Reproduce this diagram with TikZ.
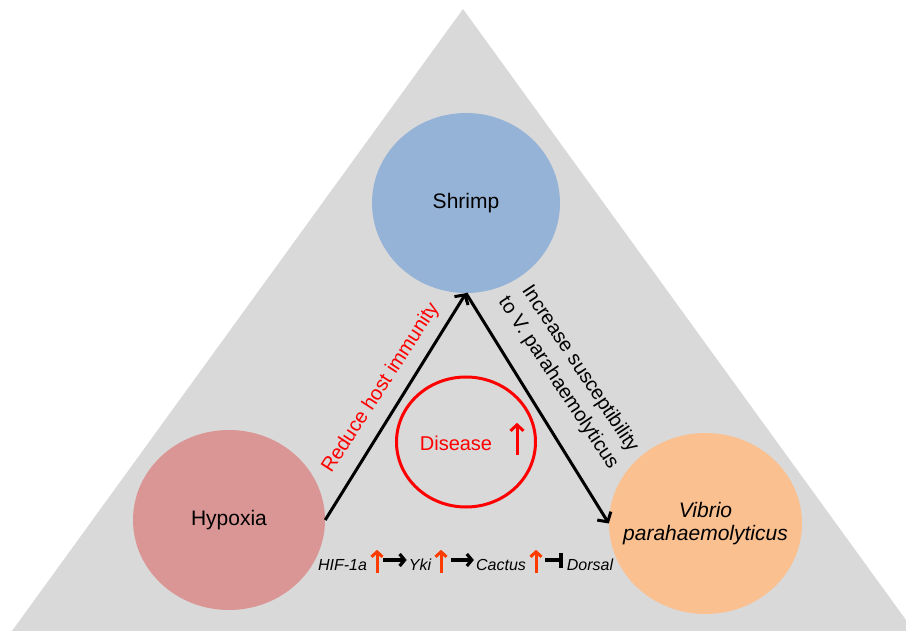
\documentclass[tikz,border=0pt]{standalone}
\usepackage{fontspec}
\setmainfont{Liberation Sans}
\usetikzlibrary{shapes.geometric,arrows.meta}
\definecolor{trigray}{HTML}{D9D9D9}
\definecolor{shrimpc}{HTML}{95B3D7}
\definecolor{hypc}{HTML}{D99694}
\definecolor{vibc}{HTML}{FAC090}
\definecolor{upred}{RGB}{255,60,0}
\begin{document}
\begin{tikzpicture}[x=1pt,y=-1pt,
  blob/.style={ellipse, inner sep=0pt, text=black, font=\fontsize{21}{24}\selectfont},
  mainarrow/.style={line width=3pt, -{Straight Barb[length=7pt,width=16pt]}},
  label20/.style={inner sep=0pt, font=\fontsize{20}{26}\selectfont},
  pathtext/.style={anchor=base, inner sep=0pt, font=\fontsize{16}{19}\selectfont\itshape},
  upbox/.style={inner sep=0pt, minimum width=8pt, minimum height=23pt},
  uparrow/.style={upred, line width=3pt, -{Straight Barb[length=5pt,width=11pt]}},
  patharrow/.style={black, line width=3.2pt, -{Straight Barb[length=5pt,width=12pt]}},
  inhibit/.style={black, line width=3.2pt, -{Bar[width=15pt,line width=3.2pt]}}
]
\useasboundingbox (0,0) rectangle (906,631);
\fill[trigray] (463,9) -- (906,620) -- (906,631) -- (12,631) -- cycle;

\node[blob, fill=shrimpc, minimum width=188pt, minimum height=180pt] (shrimp) at (466,203) {};
\node[blob] (shrimptext) at (shrimp.center) {Shrimp};
\node[blob, fill=hypc, minimum width=192pt, minimum height=180pt] (hyp) at (229,520) {};
\node[blob] (hyptext) at (hyp.center) {Hypoxia};
\node[blob, fill=vibc, minimum width=193pt, minimum height=181pt] (vib) at (705.5,523.5) {};
\node[inner sep=0pt, align=center, font=\fontsize{21}{23}\selectfont\itshape] (vibtext) at (vib.center) {Vibrio\\parahaemolyticus};

\draw[mainarrow] (hyp.east) -- (shrimp.south);
\draw[mainarrow] (shrimp.south) -- (vib.west);

\node[label20, text=red, rotate=57] (lab1) at (381,388) {Reduce host immunity};
\node[label20, rotate=-56.5, align=center] (lab2) at (569,376) {Increase susceptibility\\to V. parahaemolyticus};

\node[draw=red, line width=3pt, ellipse, inner sep=0pt, minimum width=139pt, minimum height=130pt] (dis) at (466,442) {};
\node[label20, text=red] (distext) at (456,443) {Disease};
\node[upbox, minimum height=32pt] (disup) at (517,439) {};
\draw[red, line width=3pt, -{Straight Barb[length=6pt,width=13pt]}] (disup.south) -- (disup.north);

\node[pathtext] (hif) at (342.5,570) {HIF-1a};
\node[pathtext] (yki) at (420,570) {Yki};
\node[pathtext] (cactus) at (501,570) {Cactus};
\node[pathtext] (dorsal) at (590,570) {Dorsal};

\node[upbox] (u1) at (377,561.5) {};
\node[upbox] (u2) at (441,561.5) {};
\node[upbox] (u3) at (536,561.5) {};
\draw[uparrow] (u1.south) -- (u1.north);
\draw[uparrow] (u2.south) -- (u2.north);
\draw[uparrow] (u3.south) -- (u3.north);

\draw[patharrow, shorten <=2pt, shorten >=2pt] ([yshift=1.5pt]u1.east) -- ([yshift=1.5pt]u1.east -| yki.west);
\draw[patharrow, shorten <=6pt, shorten >=2pt] ([yshift=1.5pt]u2.east) -- ([yshift=1.5pt]u2.east -| cactus.west);
\draw[inhibit, shorten <=5pt, shorten >=4pt] ([yshift=1.5pt]u3.east) -- ([yshift=1.5pt]u3.east -| dorsal.west);
\end{tikzpicture}
\end{document}
